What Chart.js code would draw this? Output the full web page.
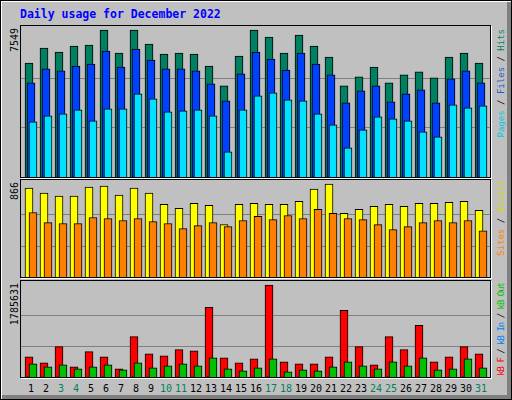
<!DOCTYPE html>
<html>
<head>
<meta charset="utf-8">
<script src="https://cdn.jsdelivr.net/npm/chart.js@4"></script>
<style>
  body { margin: 0; }
  #frame { position: relative; width: 510px; height: 398px; background: #c0c0c0;
    border: 1px solid #000; box-shadow: inset 1px 1px 0 #fff, inset -4px -4px 0 #808080; overflow: hidden;
    font-family: "DejaVu Sans Mono", monospace; }
  .panel { position: absolute; left: 19px; width: 469px; border: 1px solid #000; box-shadow: 1px 1px 0 #fff; background: #c0c0c0; }
  .panel canvas { display: block; }
  .vt { position: absolute; writing-mode: vertical-rl; transform: rotate(180deg); font-size: 10px; white-space: nowrap; line-height: 10px; }
  .day { position: absolute; top: 382px; width: 20px; text-align: center; font-size: 10px; }
  #title { position: absolute; left: 19px; top: 6px; color: #0000ff; font-weight: bold; font-size: 11.5px; }
</style>
</head>
<body>
<div id="frame">
  <div id="title">Daily usage for December 2022</div>
  <div class="panel" style="top:24px;height:151px"><canvas id="c1" width="469" height="151"></canvas></div>
  <div class="panel" style="top:178px;height:97px"><canvas id="c2" width="469" height="97"></canvas></div>
  <div class="panel" style="top:279px;height:96px"><canvas id="c3" width="469" height="96"></canvas></div>
  <div class="vt" style="left:9px;top:27px">7549</div>
  <div class="vt" style="left:9px;top:181px">866</div>
  <div class="vt" style="left:9px;top:282px">1785631</div>
  <div class="vt" style="left:495px;top:28px;font-size:9px"><span style="color:#00c8e0">Pages</span> / <span style="color:#2060c0">Files</span> / <span style="color:#008060">Hits</span></div>
  <div class="vt" style="left:495px;top:179px;font-size:9px"><span style="color:#ff8000">Sites</span> / <span style="color:#d8d800">Visits</span></div>
  <div class="vt" style="left:495px;top:282px;font-size:9px;letter-spacing:-1px"><span style="color:#ff0000">kB F</span> / <span style="color:#0080ff">kB In</span> / <span style="color:#00c000">kB Out</span></div>
  <div id="days"></div>
</div>
<script>
// Data
const days = Array.from({ length: 31 }, (_, i) => String(i + 1));
const weekendDays = [3, 4, 10, 11, 17, 18, 24, 25, 31];

const hits = [5856, 6625, 6420, 6728, 6779, 7549, 6369, 7549, 6831, 6318, 6369, 6318, 5702, 4677, 6215, 7549,
  7190, 6369, 7292, 6728, 6164, 4677, 5138, 5651, 4831, 5241, 5395, 5087, 6164, 6369, 5856];
const files = [4831, 5549, 5446, 5702, 5805, 6472, 5651, 6574, 6010, 5549, 5549, 5446, 4779, 3908, 5292, 6420,
  6061, 5497, 6369, 5805, 5241, 3805, 4420, 4677, 3856, 4267, 4472, 3805, 5036, 5446, 4831];
const pages = [2831, 3138, 3241, 3446, 2882, 3497, 3497, 4267, 4010, 3343, 3395, 3446, 3138, 1292, 3446, 4164,
  4318, 3959, 3908, 3241, 2677, 1497, 2420, 3087, 2985, 2882, 2318, 2061, 3702, 3548, 3651];

const visits = [828, 781, 753, 753, 838, 847, 762, 828, 781, 677, 639, 686, 668, 488, 677, 686,
  677, 677, 705, 819, 866, 592, 630, 658, 677, 658, 686, 686, 696, 705, 620];
const sites = [601, 507, 498, 498, 554, 545, 526, 545, 516, 498, 450, 479, 507, 469, 526, 564,
  535, 573, 545, 630, 592, 545, 535, 488, 441, 469, 507, 526, 507, 526, 431];

const kbF = [392000, 275000, 589000, 196000, 491000, 392000, 157000, 785000, 451000, 412000, 530000, 510000,
  1354000, 373000, 275000, 353000, 1785631, 294000, 255000, 255000, 392000, 1295000, 589000, 235000,
  785000, 530000, 1001000, 294000, 392000, 589000, 451000];
const kbIn = [6000, 5000, 6000, 4000, 5000, 6000, 4000, 7000, 5000, 5000, 6000, 5000, 9000, 5000, 4000, 5000,
  9000, 4000, 4000, 4000, 5000, 8000, 6000, 4000, 7000, 6000, 8000, 4000, 5000, 7000, 5000];
const kbOut = [255000, 196000, 235000, 157000, 196000, 235000, 137000, 275000, 177000, 216000, 255000, 216000,
  373000, 157000, 118000, 177000, 353000, 98000, 137000, 118000, 196000, 294000, 216000, 157000,
  294000, 216000, 373000, 137000, 157000, 353000, 177000];

const SPACING = 15;          // px per day
const FIRST_CENTER = 10;     // px from chart area left to day 1
const X_MIN = 1 - FIRST_CENTER / SPACING;

function points(values, offsetPx) {
  return values.map((v, i) => ({ x: i + 1 + offsetPx / SPACING, y: v }));
}

function makeChart(id, series, labelMax, topPx) {
  const canvas = document.getElementById(id);
  const h = canvas.height;
  const yMax = labelMax * h / (h - topPx);
  return new Chart(canvas, {
    type: 'bar',
    data: {
      datasets: series.map((s, k) => ({
        data: points(s.values, s.offset),
        backgroundColor: s.color,
        borderColor: '#000',
        borderWidth: 1,
        borderSkipped: 'bottom',
        barThickness: 8,
        grouped: false,
        order: series.length - k
      }))
    },
    options: {
      responsive: false,
      animation: false,
      devicePixelRatio: 1,
      layout: { padding: 0 },
      plugins: { legend: { display: false }, tooltip: { enabled: false } },
      scales: {
        x: { type: 'linear', display: false, offset: false, min: X_MIN, max: X_MIN + canvas.width / SPACING },
        y: {
          min: 0, max: yMax,
          ticks: { display: false },
          border: { display: false },
          grid: { color: '#808080', drawTicks: false, lineWidth: 1 },
          afterBuildTicks: scale => { scale.ticks = [1, 2].map(k => ({ value: labelMax * k / 3 })); },
          afterFit: scale => { scale.width = 0; }
        }
      }
    }
  });
}

makeChart('c1', [
  { values: hits, color: '#008060', offset: -2 },
  { values: files, color: '#0040ff', offset: 0 },
  { values: pages, color: '#00e0ff', offset: 2 }
], 7549, 4);

makeChart('c2', [
  { values: visits, color: '#ffff00', offset: -2 },
  { values: sites, color: '#ff8000', offset: 2 }
], 866, 4);

makeChart('c3', [
  { values: kbF, color: '#ff0000', offset: -2 },
  { values: kbIn, color: '#0080ff', offset: 0 },
  { values: kbOut, color: '#00c000', offset: 2 }
], 1785631, 4);

// Day labels
const dayBox = document.getElementById('days');
days.forEach((d, i) => {
  const el = document.createElement('div');
  el.className = 'day';
  el.textContent = d;
  el.style.left = (20 + FIRST_CENTER + i * SPACING - 10) + 'px';
  el.style.color = weekendDays.includes(i + 1) ? '#008060' : '#000';
  dayBox.appendChild(el);
});
</script>
</body>
</html>
